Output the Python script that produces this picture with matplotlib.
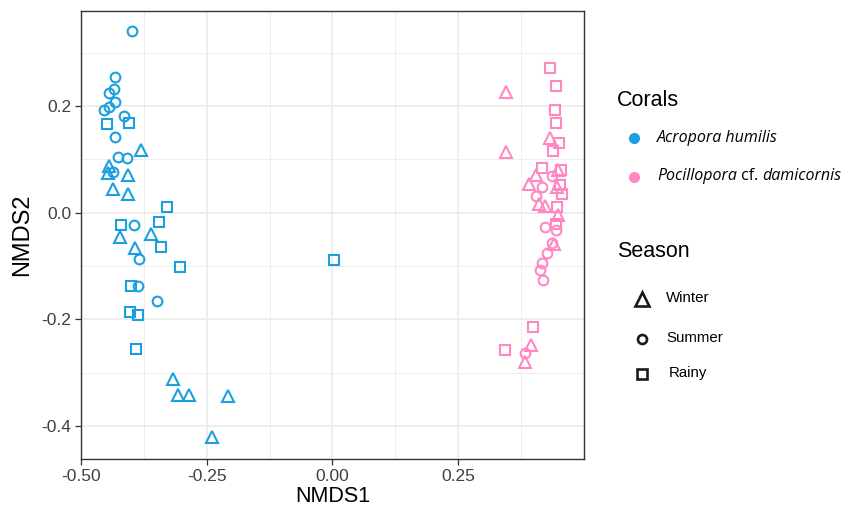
import matplotlib
matplotlib.use('Agg')
import matplotlib.pyplot as plt
from matplotlib.lines import Line2D
from matplotlib.ticker import MultipleLocator

plt.rcParams['font.family'] = ['Liberation Sans', 'DejaVu Sans']
plt.rcParams['axes.unicode_minus'] = False

# --- NMDS scores ---
# Acropora humilis
acro_winter_x = [-0.381, -0.444, -0.447, -0.407, -0.436, -0.407, -0.423, -0.361, -0.392,
                 -0.318, -0.307, -0.285, -0.208, -0.239]
acro_winter_y = [0.117, 0.088, 0.074, 0.071, 0.044, 0.036, -0.046, -0.040, -0.066,
                 -0.311, -0.342, -0.342, -0.344, -0.421]
acro_summer_x = [-0.399, -0.432, -0.435, -0.444, -0.432, -0.444, -0.454, -0.414, -0.432,
                 -0.427, -0.409, -0.436, -0.394, -0.384, -0.387, -0.348]
acro_summer_y = [0.341, 0.254, 0.233, 0.224, 0.208, 0.199, 0.192, 0.181, 0.142,
                 0.105, 0.102, 0.077, -0.023, -0.087, -0.138, -0.165]
acro_rainy_x = [-0.448, -0.404, -0.329, -0.421, -0.344, -0.341, -0.304, -0.401, -0.403,
                -0.386, -0.390, 0.002]
acro_rainy_y = [0.166, 0.168, 0.011, -0.023, -0.018, -0.064, -0.101, -0.138, -0.187,
                -0.192, -0.256, -0.089]

# Pocillopora cf. damicornis
poci_winter_x = [0.345, 0.345, 0.433, 0.404, 0.449, 0.391, 0.446, 0.411, 0.423,
                 0.448, 0.441, 0.395, 0.383]
poci_winter_y = [0.227, 0.113, 0.140, 0.071, 0.080, 0.053, 0.049, 0.016, 0.013,
                 -0.004, -0.059, -0.248, -0.280]
poci_summer_x = [0.437, 0.417, 0.404, 0.423, 0.444, 0.437, 0.426, 0.416, 0.413,
                 0.418, 0.382]
poci_summer_y = [0.069, 0.049, 0.032, -0.026, -0.032, -0.056, -0.076, -0.094, -0.108,
                 -0.126, -0.263]
poci_rainy_x = [0.433, 0.444, 0.442, 0.445, 0.451, 0.438, 0.416, 0.454, 0.452,
                0.456, 0.446, 0.444, 0.399, 0.343]
poci_rainy_y = [0.272, 0.238, 0.193, 0.169, 0.130, 0.116, 0.084, 0.080, 0.052,
                0.035, 0.011, -0.022, -0.214, -0.258]

blue = '#1BA0DF'
pink = '#FF88C2'
shapes = {'Winter': ('^', 8.8), 'Summer': ('o', 7.0), 'Rainy': ('s', 7.6)}

groups = [
    (acro_winter_x, acro_winter_y, blue, 'Winter'),
    (acro_summer_x, acro_summer_y, blue, 'Summer'),
    (acro_rainy_x, acro_rainy_y, blue, 'Rainy'),
    (poci_winter_x, poci_winter_y, pink, 'Winter'),
    (poci_summer_x, poci_summer_y, pink, 'Summer'),
    (poci_rainy_x, poci_rainy_y, pink, 'Rainy'),
]

W, H = 845, 514
fig = plt.figure(figsize=(W / 100, H / 100), dpi=100)
ax = fig.add_axes([81 / W, 1 - 459 / H, (584 - 81) / W, (459 - 10.7) / H])

for xs, ys, col, season in groups:
    m, ms = shapes[season]
    ax.plot(xs, ys, ls='none', marker=m, ms=ms, mfc='none', mec=col, mew=1.5, zorder=3)

ax.set_xlim(-0.499, 0.5)
ax.set_ylim(-0.462, 0.379)
ax.xaxis.set_minor_locator(MultipleLocator(0.125))
ax.yaxis.set_minor_locator(MultipleLocator(0.1))
ax.set_xticks([-0.5, -0.25, 0, 0.25])
ax.set_xticklabels(['-0.50', '-0.25', '0.00', '0.25'])
ax.set_yticks([-0.4, -0.2, 0.0, 0.2])
ax.set_yticklabels(['-0.4', '-0.2', '0.0', '0.2'])
ax.grid(which='major', color='#EBEBEB', lw=1.2, zorder=0)
ax.grid(which='minor', color='#EBEBEB', lw=0.6, zorder=0)
ax.set_axisbelow(True)
ax.tick_params(which='minor', length=0)
ax.tick_params(which='major', length=4, width=0.9, color='#333333',
               labelsize=12.5, labelcolor='#404040', pad=3)
for sp in ax.spines.values():
    sp.set_color('#333333')
    sp.set_linewidth(1.0)

ax.set_xlabel('NMDS1', fontsize=15.5, labelpad=2)
ax.set_ylabel('NMDS2', fontsize=17, labelpad=6)

# --- legends (drawn by hand to follow the original layout) ---
def fx(px):
    return px / W

def fy(py):
    return 1 - py / H

fig.text(fx(617), fy(100), 'Corals', fontsize=15.5, va='center', ha='left')
for (lab, col, py) in [(['Acropora humilis'], blue, 138),
                       (['Pocillopora', ' cf. ', 'damicornis'], pink, 176.5)]:
    fig.add_artist(Line2D([fx(634)], [fy(py)], transform=fig.transFigure,
                          marker='o', ms=7, color=col, ls='none'))
    t = fig.text(fx(657), fy(py), lab[0], fontsize=11.5, style='italic',
                 family='Open Sans', va='center', ha='left')
    if len(lab) > 1:
        t2 = ax.annotate(lab[1], xycoords=t, xy=(1, 0.5), va='center', ha='left',
                         fontsize=11.5, family='Open Sans', annotation_clip=False)
        ax.annotate(lab[2], xycoords=t2, xy=(1, 0.5), va='center', ha='left',
                    fontsize=11.5, style='italic', family='Open Sans',
                    annotation_clip=False)

fig.text(fx(617), fy(251.5), 'Season', fontsize=15.5, va='center', ha='left')
legend_ms = {'Winter': 9.5, 'Summer': 6.5, 'Rainy': 7.8}
for season, py, tx in [('Winter', 299, 666), ('Summer', 338.5, 666), ('Rainy', 373.5, 669)]:
    m, _ = shapes[season]
    fig.add_artist(Line2D([fx(642)], [fy(py)], transform=fig.transFigure,
                          marker=m, ms=legend_ms[season], mfc='none', mec='#1A1A1A',
                          mew=1.9, ls='none'))
    fig.text(fx(tx), fy(py - 1), season, fontsize=10.8, va='center', ha='left')

fig.savefig('out.png', dpi=100)
